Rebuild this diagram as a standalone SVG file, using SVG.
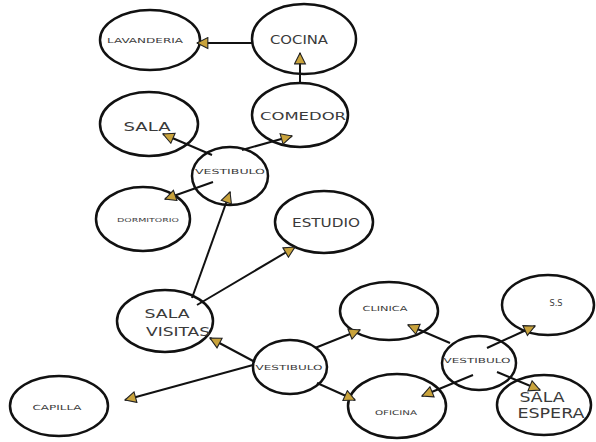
<svg xmlns="http://www.w3.org/2000/svg" width="596" height="442" viewBox="0 0 596 442">
<defs>
<style>
.n{fill:none;stroke:#111;stroke-width:2.5}
.t{font-family:"DejaVu Sans","Liberation Sans",sans-serif;fill:#3a3a3a;text-anchor:middle}
.c{stroke:#111;stroke-width:2;fill:none;marker-end:url(#ah)}
</style>
<marker id="ah" markerWidth="13" markerHeight="13" refX="10" refY="5" orient="auto" markerUnits="userSpaceOnUse" viewBox="-1 -1 12 12">
<path d="M0,0 L10,5 L0,10 z" fill="#c9a33c" stroke="#222" stroke-width="1"/>
</marker>
</defs>
<rect width="596" height="442" fill="#fff"/>
<g id="lavanderia"><ellipse class="n" cx="150" cy="40" rx="50" ry="30"/><text class="t" x="145" y="43" font-size="7" textLength="76" lengthAdjust="spacingAndGlyphs">LAVANDERIA</text></g>
<g id="cocina"><ellipse class="n" cx="304" cy="39" rx="52" ry="35"/><text class="t" x="299" y="44" font-size="12" textLength="58" lengthAdjust="spacingAndGlyphs">COCINA</text></g>
<g id="comedor"><ellipse class="n" cx="300" cy="115" rx="48" ry="32"/><text class="t" x="303" y="120" font-size="11" textLength="86" lengthAdjust="spacingAndGlyphs">COMEDOR</text></g>
<g id="sala"><ellipse class="n" cx="149" cy="124" rx="49" ry="32"/><text class="t" x="147" y="131" font-size="12" textLength="47" lengthAdjust="spacingAndGlyphs">SALA</text></g>
<g id="vestibulo1"><ellipse class="n" cx="230" cy="176" rx="38" ry="29"/><text class="t" x="230" y="174" font-size="7" textLength="70" lengthAdjust="spacingAndGlyphs">VESTIBULO</text></g>
<g id="dormitorio"><ellipse class="n" cx="143" cy="219" rx="47" ry="32"/><text class="t" x="148" y="222" font-size="5.5" textLength="62" lengthAdjust="spacingAndGlyphs">DORMITORIO</text></g>
<g id="estudio"><ellipse class="n" cx="324" cy="222" rx="49" ry="31"/><text class="t" x="326" y="227" font-size="12" textLength="68" lengthAdjust="spacingAndGlyphs">ESTUDIO</text></g>
<g id="salavisitas"><ellipse class="n" cx="165" cy="321" rx="48" ry="31"/><text class="t" x="167" y="318" font-size="13" textLength="45" lengthAdjust="spacingAndGlyphs">SALA</text><text class="t" x="178" y="336" font-size="13" textLength="64" lengthAdjust="spacingAndGlyphs">VISITAS</text></g>
<g id="vestibulo2"><ellipse class="n" cx="290" cy="367" rx="37" ry="27"/><text class="t" x="289" y="370" font-size="7" textLength="67" lengthAdjust="spacingAndGlyphs">VESTIBULO</text></g>
<g id="capilla"><ellipse class="n" cx="59" cy="406" rx="49" ry="30"/><text class="t" x="57" y="410" font-size="7" textLength="49" lengthAdjust="spacingAndGlyphs">CAPILLA</text></g>
<g id="clinica"><ellipse class="n" cx="389" cy="311" rx="49" ry="29"/><text class="t" x="385" y="311" font-size="7" textLength="45" lengthAdjust="spacingAndGlyphs">CLINICA</text></g>
<g id="oficina"><ellipse class="n" cx="397" cy="406" rx="49" ry="32"/><text class="t" x="396" y="415" font-size="6.5" textLength="42" lengthAdjust="spacingAndGlyphs">OFICINA</text></g>
<g id="vestibulo3"><ellipse class="n" cx="479" cy="363" rx="37" ry="27"/><text class="t" x="477" y="363" font-size="7" textLength="67" lengthAdjust="spacingAndGlyphs">VESTIBULO</text></g>
<g id="ss"><ellipse class="n" cx="548" cy="305" rx="46" ry="30"/><text class="t" x="556" y="306" font-size="8" textLength="13" lengthAdjust="spacingAndGlyphs">S.S</text></g>
<g id="salaespera"><ellipse class="n" cx="544" cy="405" rx="47" ry="30"/><text class="t" x="542" y="402" font-size="14" textLength="45" lengthAdjust="spacingAndGlyphs">SALA</text><text class="t" x="551" y="418" font-size="14" textLength="67" lengthAdjust="spacingAndGlyphs">ESPERA</text></g>
<g id="connectors">
<line class="c" x1="252" y1="43" x2="197" y2="43"/>
<line class="c" x1="300" y1="84" x2="300" y2="53"/>
<line class="c" x1="212" y1="155" x2="163" y2="134"/>
<line class="c" x1="242" y1="150" x2="292" y2="136"/>
<line class="c" x1="213" y1="182" x2="165" y2="199"/>
<line class="c" x1="192" y1="298" x2="230" y2="192"/>
<line class="c" x1="197" y1="305" x2="295" y2="247"/>
<line class="c" x1="255" y1="362" x2="210" y2="338"/>
<line class="c" x1="253" y1="365" x2="125" y2="400"/>
<line class="c" x1="315" y1="348" x2="360" y2="330"/>
<line class="c" x1="317" y1="383" x2="355" y2="400"/>
<line class="c" x1="450" y1="343" x2="408" y2="325"/>
<line class="c" x1="473" y1="375" x2="422" y2="396"/>
<line class="c" x1="487" y1="348" x2="535" y2="326"/>
<line class="c" x1="497" y1="372" x2="540" y2="390"/>
</g>
</svg>
